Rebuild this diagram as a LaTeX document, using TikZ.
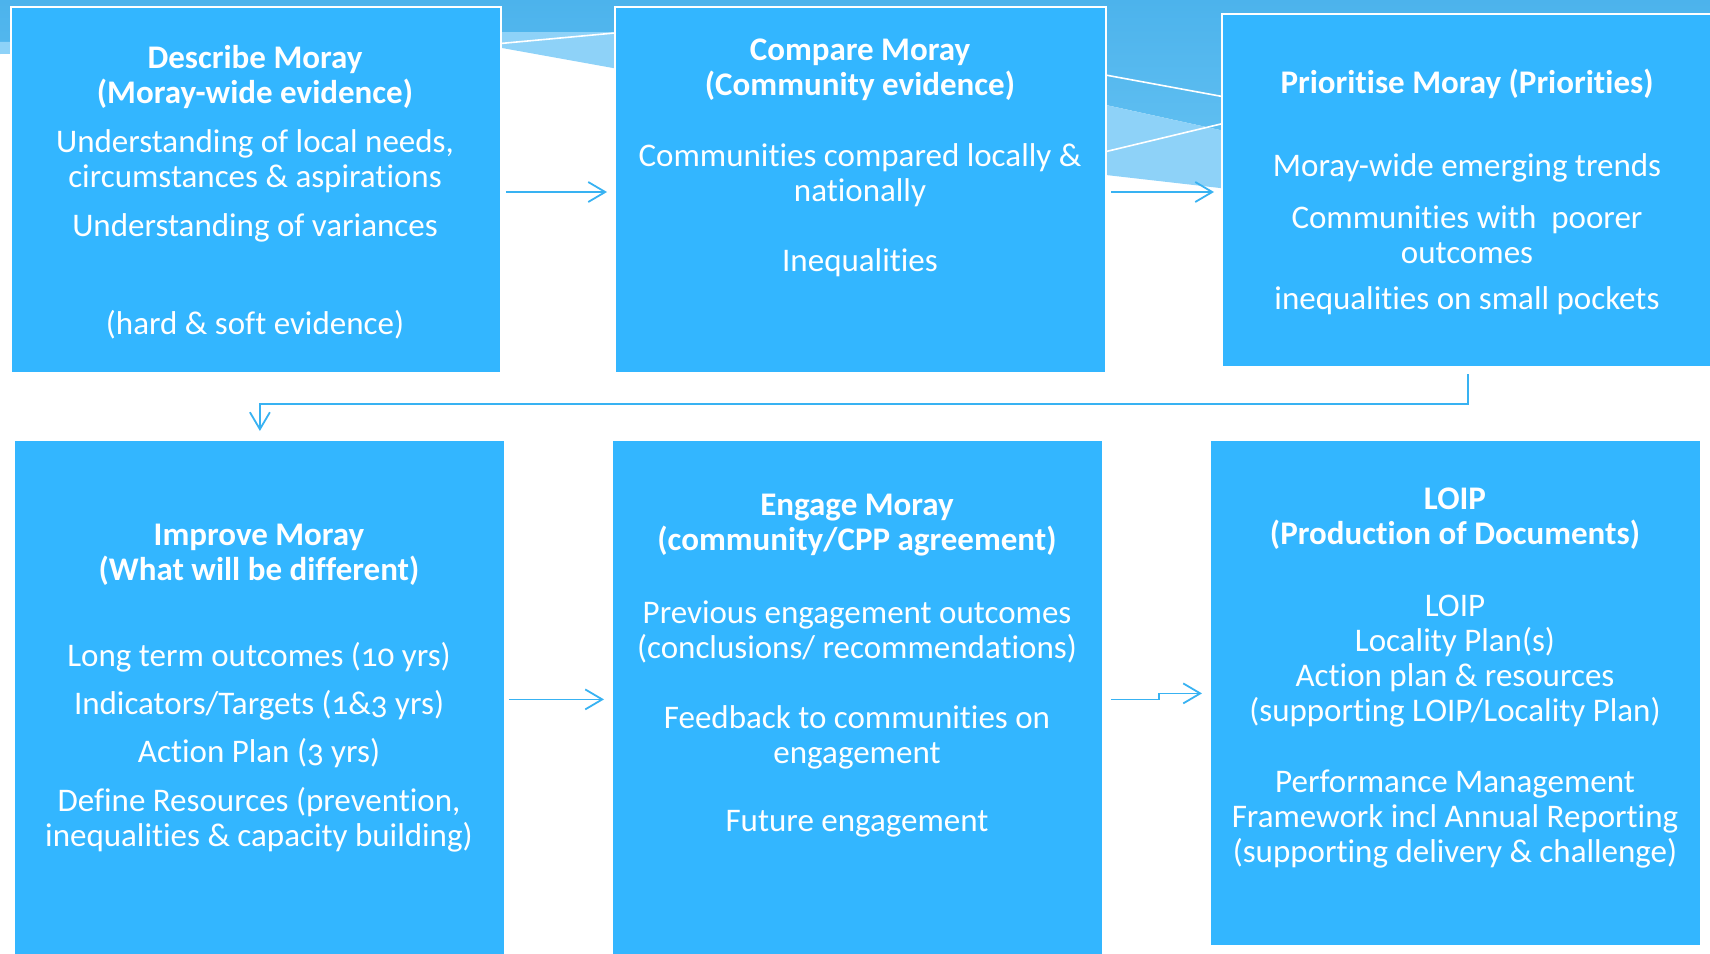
\documentclass[tikz,border=0pt]{standalone}
\usepackage{fontspec}
\setmainfont{Carlito}[Numbers=OldStyle, RawFeature={-liga}]
\usetikzlibrary{arrows.meta,calc}

\definecolor{panelblue}{RGB}{51,182,255}
\definecolor{flowblue}{RGB}{56,178,242}
\definecolor{banddark}{RGB}{76,179,236}
\definecolor{bandmid}{RGB}{110,199,245}
\definecolor{bandlight}{RGB}{142,210,248}

\tikzset{
  panel/.style={fill=panelblue, anchor=north west, inner sep=0pt},
  toppanel/.style={panel, draw=white, line width=1pt},
  ptitle/.style={text=white, align=center, yshift=-1.5pt, font=\bfseries\fontsize{16.5}{17.5}\selectfont},
  ptext/.style={text=white, align=center, yshift=-1.5pt, font=\fontsize{16.5}{17.5}\selectfont},
  flow/.style={draw=flowblue, line width=0.9pt, -{Straight Barb[length=8.5pt,width=10pt]}},
  swoosh/.style={draw=white, line width=0.8pt}
}

\begin{document}
\begin{tikzpicture}[x=0.5pt,y=-0.5pt]
  \useasboundingbox (0,0) rectangle (1710,954);
  \clip (0,0) rectangle (1710,954);

  % Fondo
  \shade[top color=banddark, bottom color=bandmid]
    (0,0) -- (1710,0) -- (1710,240) -- (1220,130) -- (1106,105)
    -- (613,32) -- (502,32) -- (0,42) -- cycle;
  \fill[bandlight]
    (0,42) -- (502,32) -- (613,32) -- (1106,105) -- (1220,130) -- (1710,240)
    -- (1710,300) -- (1220,188) -- (1106,175) -- (613,68) -- (502,48) -- (0,54) -- cycle;
  \draw[swoosh] (495,44) -- (620,32.5);
  \draw[swoosh] (1100,74) -- (1225,97);
  \draw[swoosh] (1100,153) -- (1225,123);

  % Cajas
  \node[toppanel, minimum width=245pt, minimum height=183pt] (describe) at (10,6) {};
  \node[toppanel, minimum width=245.5pt, minimum height=183pt] (compare) at (614,6) {};
  \node[toppanel, minimum width=246pt, minimum height=176.5pt] (prioritise) at (1221,13) {};
  \node[panel, minimum width=244.5pt, minimum height=258pt] (improve) at (15,441) {};
  \node[panel, minimum width=244.5pt, minimum height=258pt] (engage) at (613,441) {};
  \node[panel, minimum width=244.5pt, minimum height=252pt] (loip) at (1211,441) {};

  % Flechas
  \draw[flow, shorten <=2pt, shorten >=3.5pt] ([yshift=-1pt]describe.east) -- ([yshift=-1pt]compare.west);
  \draw[flow, shorten <=2pt, shorten >=3.5pt] ([yshift=-1pt]compare.east) -- ([yshift=-1pt]compare.east -| prioritise.west);
  \coordinate (bend) at ($(prioritise.south)+(0,36)$);
  \draw[flow, shorten <=2pt, shorten >=5pt] ([yshift=-1pt]prioritise.south) -- (bend) -| (improve.north);
  \draw[flow, shorten <=2pt, shorten >=4.5pt] (improve.east) -- (engage.west);
  \draw[flow, shorten <=2pt, shorten >=4.5pt] ([xshift=2pt]engage.east) -- ++(52,0) |- (loip.west);

  % Textos
  \node[ptitle] (describeT) at (255,74.5) {Describe Moray\\(Moray-wide evidence)};
  \node[ptext] (describeA) at (255,158.5) {Understanding of local needs,\\circumstances \& aspirations};
  \node[ptext] (describeB) at (255,225) {Understanding of variances};
  \node[ptext] (describeC) at (255,322) {(hard \& soft evidence)};

  \node[ptitle] (compareT) at (860,66.5) {Compare Moray\\(Community evidence)};
  \node[ptext] (compareA) at (860,172.5) {Communities compared locally \&\\nationally};
  \node[ptext] (compareB) at (860,260) {Inequalities};

  \node[ptitle] (prioritiseT) at (1467,81) {Prioritise Moray (Priorities)};
  \node[ptext] (prioritiseA) at (1467,165) {Moray-wide emerging trends};
  \node[ptext] (prioritiseB) at (1467,231.5) {Communities with\ \ poorer\\outcomes};
  \node[ptext] (prioritiseC) at (1467,298) {inequalities on small pockets};

  \node[ptitle] (improveT) at (259,551.5) {Improve Moray\\(What will be different)};
  \node[ptext] (improveA) at (259,654) {Long term outcomes (10 yrs)};
  \node[ptext] (improveB) at (259,702) {Indicators/Targets (1\&3 yrs)};
  \node[ptext] (improveC) at (259,750) {Action Plan (3 yrs)};
  \node[ptext] (improveD) at (259,817) {Define Resources (prevention,\\inequalities \& capacity building)};

  \node[ptitle] (engageT) at (857,522.5) {Engage Moray\\(community/CPP agreement)};
  \node[ptext] (engageA) at (857,628.5) {Previous engagement outcomes\\(conclusions/ recommendations)};
  \node[ptext] (engageB) at (857,734) {Feedback to communities on\\engagement};
  \node[ptext] (engageC) at (857,821) {Future engagement};

  \node[ptitle] (loipT) at (1455,516) {LOIP\\(Production of Documents)};
  \node[ptext] (loipA) at (1455,658) {LOIP\\Locality Plan(s)\\Action plan \& resources\\(supporting LOIP/Locality Plan)};
  \node[ptext] (loipB) at (1455,816) {Performance Management\\Framework incl Annual Reporting\\(supporting delivery \& challenge)};
\end{tikzpicture}
\end{document}
